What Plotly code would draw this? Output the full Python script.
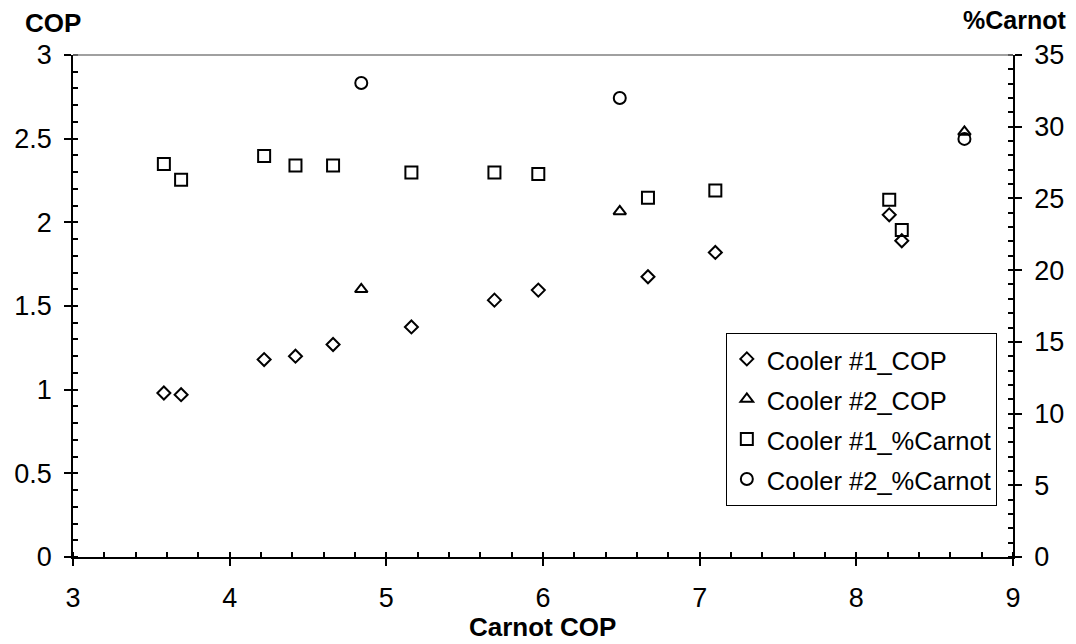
import plotly.graph_objects as go

# Carnot COP for each cooler test point
carnot_c1 = [3.58, 3.69, 4.22, 4.42, 4.66, 5.16, 5.69, 5.97, 6.67, 7.10, 8.21, 8.29]
carnot_c2 = [4.84, 6.49, 8.69]

# measured COP
cop_c1 = [0.98, 0.97, 1.18, 1.20, 1.27, 1.375, 1.535, 1.595, 1.675, 1.82, 2.045, 1.89]
cop_c2 = [1.60, 2.065, 2.54]

# percent of Carnot
pct_c1 = [27.4, 26.3, 27.95, 27.3, 27.3, 26.8, 26.8, 26.7, 25.05, 25.55, 24.9, 22.8]
pct_c2 = [33.05, 32.0, 29.15]

FONT = "Liberation Sans, Arial, sans-serif"

fig = go.Figure()

def add(x, y, name, symbol, size, axis):
    # span keeps the text at 25.5px while the larger legend font spaces the rows out
    fig.add_trace(go.Scatter(
        x=x, y=y, name=f"<span style='font-size:25.5px'>{name}</span>",
        mode="markers", yaxis=axis,
        marker=dict(symbol=symbol, size=size, color="black",
                    line=dict(color="black", width=2)),
    ))

add(carnot_c1, cop_c1, "Cooler #1_COP", "diamond-open", 10, "y")
add(carnot_c2, cop_c2, "Cooler #2_COP", "triangle-up-open", 11, "y")
add(carnot_c1, pct_c1, "Cooler #1_%Carnot", "square-open", 12, "y2")
add(carnot_c2, pct_c2, "Cooler #2_%Carnot", "circle-open", 12, "y2")

axis_common = dict(
    showgrid=False, zeroline=False, showline=True, linecolor="black", linewidth=1.5,
    ticks="outside", ticklen=7, tickwidth=1.5, tickcolor="black",
    tickfont=dict(family=FONT, size=27, color="black"),
)

fig.update_layout(
    width=1076, height=644,
    margin=dict(l=73, r=59, t=55, b=87),
    plot_bgcolor="white", paper_bgcolor="white",
    font=dict(family=FONT, color="black"),
    showlegend=True,
    xaxis=dict(range=[3, 9], dtick=1, ticklabelstandoff=9,
               minor=dict(dtick=0.2, ticks="inside", ticklen=5, tickcolor="black"),
               **axis_common),
    yaxis=dict(range=[0, 3], dtick=0.5, ticklabelstandoff=7,
               minor=dict(dtick=0.1, ticks="inside", ticklen=5, tickcolor="black"),
               **axis_common),
    yaxis2=dict(range=[0, 35], dtick=5, overlaying="y", side="right", ticklabelstandoff=7,
                minor=dict(dtick=1, ticks="inside", ticklen=5, tickcolor="black"),
                **axis_common),
    legend=dict(x=0.6945, y=0.4465, xanchor="left", yanchor="top",
                bordercolor="black", borderwidth=1, bgcolor="white",
                font=dict(family=FONT, size=28.5, color="black")),
    shapes=[dict(type="line", xref="paper", yref="paper", x0=0, x1=1, y0=1, y1=1,
                 line=dict(color="#808080", width=1.5))],
    annotations=[
        dict(text="<b>COP</b>", x=53, y=23, font=dict(family=FONT, size=26)),
        dict(text="<b>%Carnot</b>", x=1019, y=20, font=dict(family=FONT, size=25)),
        dict(text="<b>Carnot COP</b>", x=544, y=627, font=dict(family=FONT, size=26)),
    ],
)

# annotation positions above are given in pixels; convert to paper fractions
pw, ph = 1076 - 73 - 59, 644 - 55 - 87
for a in fig.layout.annotations:
    a.update(xref="paper", yref="paper", showarrow=False, xanchor="center", yanchor="middle",
             x=(a.x - 73) / pw, y=(644 - 87 - a.y) / ph)

fig.write_html("out.html", config={"displayModeBar": False},
               post_script="document.body.style.margin='0';")
